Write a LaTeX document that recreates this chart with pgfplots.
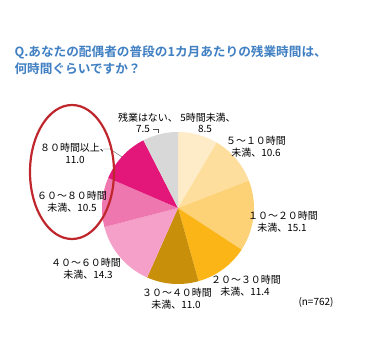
\documentclass[border=0pt]{standalone}
\usepackage{pgfplots}
\pgfplotsset{compat=1.18}
\usepackage{fontspec}
\setmainfont{Noto Sans CJK JP}
\newfontfamily\cjkb{Noto Sans CJK JP Bold}
\definecolor{c1}{HTML}{FEEBC8}
\definecolor{c2}{HTML}{FDDE9C}
\definecolor{c3}{HTML}{FDD277}
\definecolor{c4}{HTML}{FBB516}
\definecolor{c5}{HTML}{C8900A}
\definecolor{c6}{HTML}{F5A0C8}
\definecolor{c7}{HTML}{EF77B0}
\definecolor{c8}{HTML}{E3167A}
\definecolor{c9}{HTML}{D8D8D8}
\definecolor{titleblue}{HTML}{3F7FC2}
\definecolor{ellred}{HTML}{C0272D}
\begin{document}
\begin{tikzpicture}
\begin{axis}[
  scale only axis, width=380bp, height=351bp,
  xmin=0, xmax=380, ymin=0, ymax=351, y dir=reverse,
  hide axis, clip=false,
  every node/.style={font=\fontsize{7.3}{8}\selectfont, align=center, text=black!85, inner sep=0pt},
]
\path (axis cs:0,0) rectangle (axis cs:380,351);
% sectors: value/colour, clockwise from 12 o'clock
\gdef\cum{0}
\foreach \v/\col in {8.5/c1, 10.6/c2, 15.1/c3, 11.4/c4, 11.0/c5, 14.3/c6, 10.5/c7, 11.0/c8, 7.5/c9}{
  \pgfmathsetmacro{\aa}{90-\cum/99.9*360}
  \pgfmathsetmacro{\bb}{90-(\cum+\v)/99.9*360}
  \edef\temp{\noexpand\fill[\col] (axis cs:178,208) -- ++(\aa:76bp) arc[start angle=\aa, end angle=\bb, radius=76bp] -- cycle;}
  \temp
  \pgfmathsetmacro{\newcum}{\cum+\v}
  \global\let\cum\newcum
}
% title
\node[anchor=west, font=\cjkb\fontsize{12.7}{15}\selectfont, text=titleblue, align=left] at (axis cs:11,52) {Q.あなたの配偶者の普段の1カ月あたりの残業時間は、};
\node[anchor=west, font=\cjkb\fontsize{12.7}{15}\selectfont, text=titleblue, align=left] at (axis cs:11,69) {何時間ぐらいですか？};
% labels
\node at (axis cs:148,118) {残業はない、};
\node at (axis cs:143,129) {7.5};
\draw[black!70, line width=0.4pt] (axis cs:153,129) -- (axis cs:158,129) -- (axis cs:158,133);
\node at (axis cs:208,118) {5時間未満、};
\node at (axis cs:205,129) {8.5};
\node at (axis cs:256,141) {５～１０時間};
\node at (axis cs:256,153) {未満、10.6};
\node at (axis cs:283,216) {１０～２０時間};
\node at (axis cs:282,228) {未満、15.1};
\node at (axis cs:246,280) {２０～３０時間};
\node at (axis cs:245,292) {未満、11.4};
\node at (axis cs:177,293) {３０～４０時間};
\node at (axis cs:176,305) {未満、11.0};
\node at (axis cs:86,263) {４０～６０時間};
\node at (axis cs:88,275) {未満、14.3};
\node at (axis cs:72,196) {６０～８０時間};
\node at (axis cs:72,208) {未満、10.5};
\node at (axis cs:75,148) {８０時間以上、};
\node at (axis cs:75,160) {11.0};
\draw[black!70, line width=0.4pt] (axis cs:103,149) -- (axis cs:110,149) -- (axis cs:122,157);
\node[font=\fontsize{10}{12}\selectfont] at (axis cs:316,302) {(n=762)};
% red ellipse
\draw[ellred, line width=2.2pt] (axis cs:72,172) ellipse[x radius=42bp, y radius=67bp];
\end{axis}
\end{tikzpicture}
\end{document}
